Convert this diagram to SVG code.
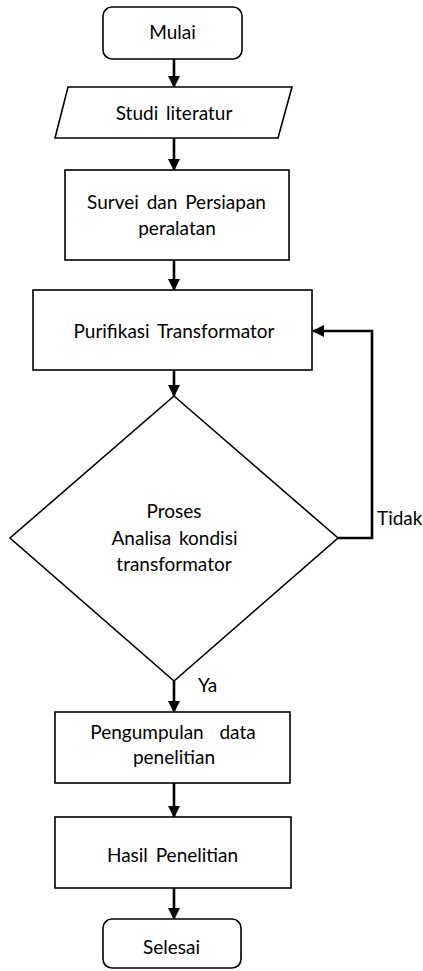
<svg xmlns="http://www.w3.org/2000/svg" width="423" height="971" viewBox="0 0 423 971">
<style>
.shape{fill:#fff;stroke:#000;stroke-width:1.6}
.conn{fill:none;stroke:#000;stroke-width:2.6}
text{font-family:Lato,"Open Sans","Liberation Sans",sans-serif;font-size:19px;word-spacing:3px;fill:#000}
.c{text-anchor:middle}
</style>
<defs>
<marker id="arr" markerUnits="userSpaceOnUse" markerWidth="12" markerHeight="12" viewBox="0 0 12 12" refX="11" refY="6" orient="auto">
<path d="M0,0 L12,6 L0,12 Z" fill="#000"/>
</marker>
</defs>
<rect width="423" height="971" fill="#fff"/>
<g id="connectors">
<line class="conn" x1="174" y1="59" x2="174" y2="87" marker-end="url(#arr)"/>
<line class="conn" x1="174" y1="138" x2="174" y2="170" marker-end="url(#arr)"/>
<line class="conn" x1="174" y1="260" x2="174" y2="290" marker-end="url(#arr)"/>
<line class="conn" x1="174" y1="370" x2="174" y2="396" marker-end="url(#arr)"/>
<line class="conn" x1="174" y1="681" x2="174" y2="712" marker-end="url(#arr)"/>
<line class="conn" x1="174" y1="783" x2="174" y2="817" marker-end="url(#arr)"/>
<line class="conn" x1="174" y1="888" x2="174" y2="919" marker-end="url(#arr)"/>
<polyline class="conn" points="338,538 372,538 372,331 313,331" marker-end="url(#arr)"/>
<text x="377" y="525">Tidak</text>
<text x="198" y="692">Ya</text>
</g>
<g id="mulai">
<rect class="shape" x="103" y="7" width="139" height="52" rx="9"/>
<text class="c" x="172.5" y="39">Mulai</text>
</g>
<g id="studi">
<polygon class="shape" points="68,87 292,87 278,138 55,138"/>
<text class="c" x="174" y="120">Studi literatur</text>
</g>
<g id="survei">
<rect class="shape" x="65" y="170" width="224" height="90"/>
<text class="c" x="176.5" y="209">Survei dan Persiapan</text>
<text class="c" x="177" y="235">peralatan</text>
</g>
<g id="purifikasi">
<rect class="shape" x="33" y="290" width="279" height="80"/>
<text class="c" x="174" y="338">Purifikasi Transformator</text>
</g>
<g id="analisa">
<polygon class="shape" points="174,396 338,538 174,681 10,538"/>
<text class="c" x="174" y="518">Proses</text>
<text class="c" x="174.5" y="545">Analisa kondisi</text>
<text class="c" x="174" y="571">transformator</text>
</g>
<g id="pengumpulan">
<rect class="shape" x="55" y="712" width="235" height="71"/>
<text class="c" x="173" y="739" xml:space="preserve">Pengumpulan  data</text>
<text class="c" x="174" y="764">penelitian</text>
</g>
<g id="hasil">
<rect class="shape" x="55" y="817" width="236" height="71"/>
<text class="c" x="172.5" y="862">Hasil Penelitian</text>
</g>
<g id="selesai">
<rect class="shape" x="103" y="919" width="138" height="49" rx="9"/>
<text class="c" x="171.5" y="954">Selesai</text>
</g>
</svg>
